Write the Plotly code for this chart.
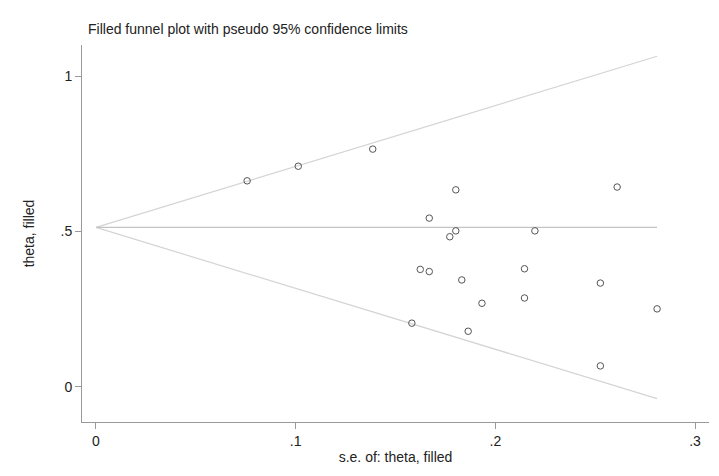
import plotly.graph_objects as go

# 관측값 (표준오차, 효과크기)
se = [0.0757, 0.1013, 0.1386, 0.1802, 0.1669, 0.1802, 0.1772, 0.2198, 0.1624, 0.1669,
      0.1832, 0.2146, 0.2146, 0.1933, 0.1582, 0.1864, 0.261, 0.2526, 0.281, 0.2526]
theta = [0.663, 0.710, 0.765, 0.634, 0.543, 0.502, 0.483, 0.502, 0.378, 0.371,
         0.344, 0.380, 0.286, 0.269, 0.205, 0.179, 0.643, 0.334, 0.251, 0.0675]
theta_pooled = 0.513
se_max = 0.281
z = 1.96

fig = go.Figure()

line_style = dict(color="#d4d4d4", width=1.2)
fig.add_trace(go.Scatter(x=[0, se_max], y=[theta_pooled, theta_pooled + z * se_max],
                         mode="lines", line=line_style, hoverinfo="skip"))
fig.add_trace(go.Scatter(x=[0, se_max], y=[theta_pooled, theta_pooled - z * se_max],
                         mode="lines", line=line_style, hoverinfo="skip"))
fig.add_trace(go.Scatter(x=[0, se_max], y=[theta_pooled, theta_pooled],
                         mode="lines", line=dict(color="#c4c4c4", width=1.2), hoverinfo="skip"))

fig.add_trace(go.Scatter(
    x=se, y=theta, mode="markers",
    marker=dict(symbol="circle-open", size=6.5, color="#555555", line=dict(width=1)),
))

axis_common = dict(
    showgrid=False, zeroline=False, showline=True, linecolor="#999999", linewidth=1,
    ticks="outside", tickcolor="#999999", ticklen=6,
    tickfont=dict(family="Arial, Liberation Sans", size=14, color="#222222"),
    title_font=dict(family="Arial, Liberation Sans", size=14, color="#222222"),
)

fig.update_xaxes(range=[-0.007, 0.307], tickvals=[0, 0.1, 0.2, 0.3], ticktext=["0", ".1", ".2", ".3"],
                 title_text="s.e. of: theta, filled", title_standoff=4, **axis_common)
fig.update_yaxes(range=[-0.113, 1.10], tickvals=[0, 0.5, 1], ticktext=["0", ".5", "1"],
                 title_text="theta, filled", title_standoff=22, **axis_common)

fig.update_layout(
    width=719, height=476,
    showlegend=False,
    plot_bgcolor="white", paper_bgcolor="white",
    margin=dict(l=74, r=18, t=37, b=62),
    title=dict(text="Filled funnel plot with pseudo 95% confidence limits",
               x=0.005, xref="container", xanchor="left", y=0.955, yanchor="middle",
               font=dict(family="Arial, Liberation Sans", size=14, color="#222222")),
)
fig.update_layout(title_x=80 / 719)

fig.write_html("out.html")
